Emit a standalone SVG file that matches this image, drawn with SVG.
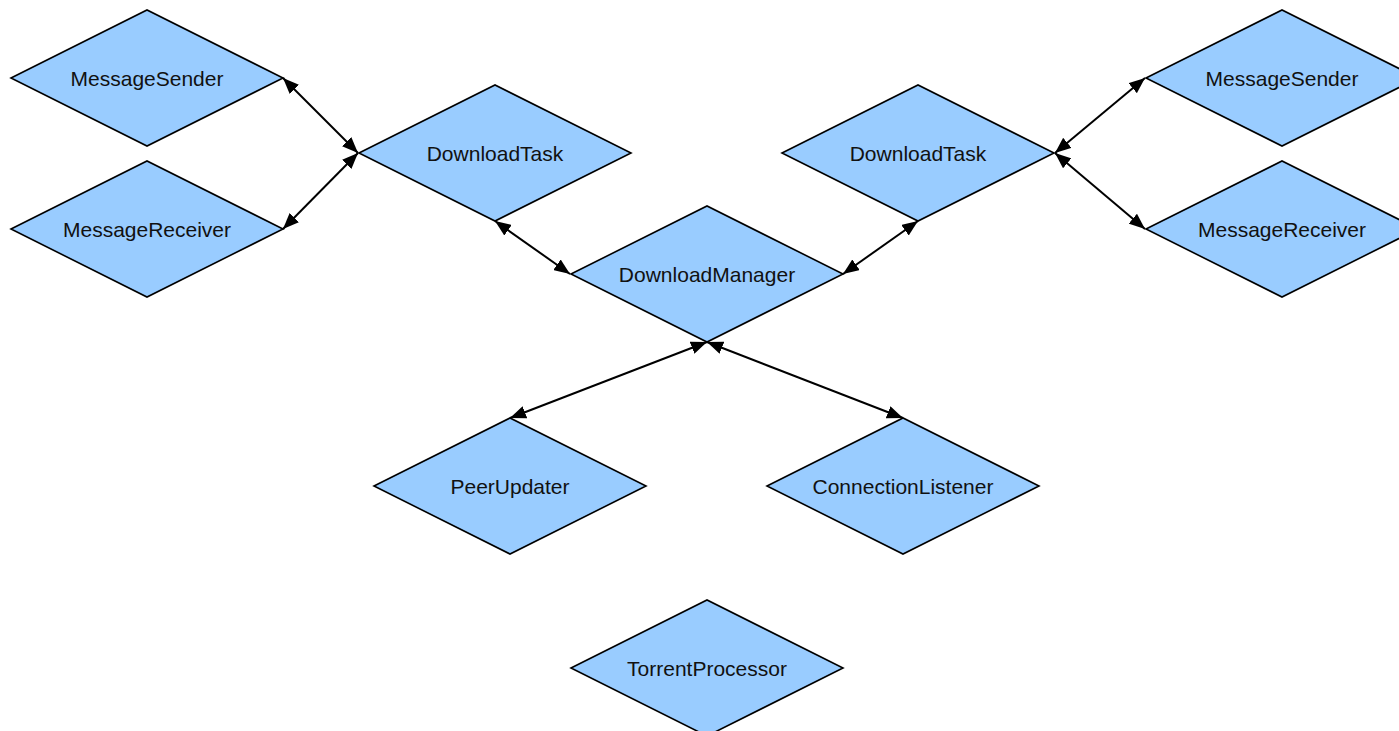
<svg xmlns="http://www.w3.org/2000/svg" width="1399" height="731" viewBox="0 0 1399 731">
<style>
.node polygon{fill:#99ccff;stroke:#000;stroke-width:1.6;stroke-linejoin:miter}
.node text{font-family:"Liberation Sans",Arial,sans-serif;font-size:21px;fill:#111;text-anchor:middle}
.edge line{stroke:#000;stroke-width:2;marker-start:url(#ah);marker-end:url(#ah)}
</style>
<defs>
<marker id="ah" markerUnits="userSpaceOnUse" markerWidth="17" markerHeight="13" refX="16" refY="6.5" orient="auto-start-reverse" viewBox="0 0 17 13">
<path d="M0,0 L16,6.5 L0,13 Z" fill="#000"/>
</marker>
</defs>
<rect width="1399" height="731" fill="#fff"/>
<g id="connectors" class="edge">
<line x1="283" y1="78" x2="358" y2="153"/>
<line x1="283" y1="229" x2="358" y2="153"/>
<line x1="495" y1="221" x2="570" y2="274"/>
<line x1="918" y1="221" x2="843" y2="274"/>
<line x1="1055" y1="153" x2="1145" y2="78"/>
<line x1="1055" y1="153" x2="1145" y2="229"/>
<line x1="707" y1="342" x2="510" y2="418"/>
<line x1="707" y1="342" x2="903" y2="418"/>
</g>
<g id="MessageSenderL" class="node"><polygon points="11,78 147,10 283,78 147,146"/><text x="147" y="85.5">MessageSender</text></g>
<g id="MessageReceiverL" class="node"><polygon points="11,229 147,161 283,229 147,297"/><text x="147" y="236.5">MessageReceiver</text></g>
<g id="DownloadTaskL" class="node"><polygon points="359,153 495,85 631,153 495,221"/><text x="495" y="160.5">DownloadTask</text></g>
<g id="DownloadManager" class="node"><polygon points="571,274 707,206 843,274 707,342"/><text x="707" y="281.5">DownloadManager</text></g>
<g id="DownloadTaskR" class="node"><polygon points="782,153 918,85 1054,153 918,221"/><text x="918" y="160.5">DownloadTask</text></g>
<g id="MessageSenderR" class="node"><polygon points="1146,78 1282,10 1418,78 1282,146"/><text x="1282" y="85.5">MessageSender</text></g>
<g id="MessageReceiverR" class="node"><polygon points="1146,229 1282,161 1418,229 1282,297"/><text x="1282" y="236.5">MessageReceiver</text></g>
<g id="PeerUpdater" class="node"><polygon points="374,486 510,418 646,486 510,554"/><text x="510" y="493.5">PeerUpdater</text></g>
<g id="ConnectionListener" class="node"><polygon points="767,486 903,418 1039,486 903,554"/><text x="903" y="493.5">ConnectionListener</text></g>
<g id="TorrentProcessor" class="node"><polygon points="571,668 707,600 843,668 707,736"/><text x="707" y="675.5">TorrentProcessor</text></g>
</svg>
